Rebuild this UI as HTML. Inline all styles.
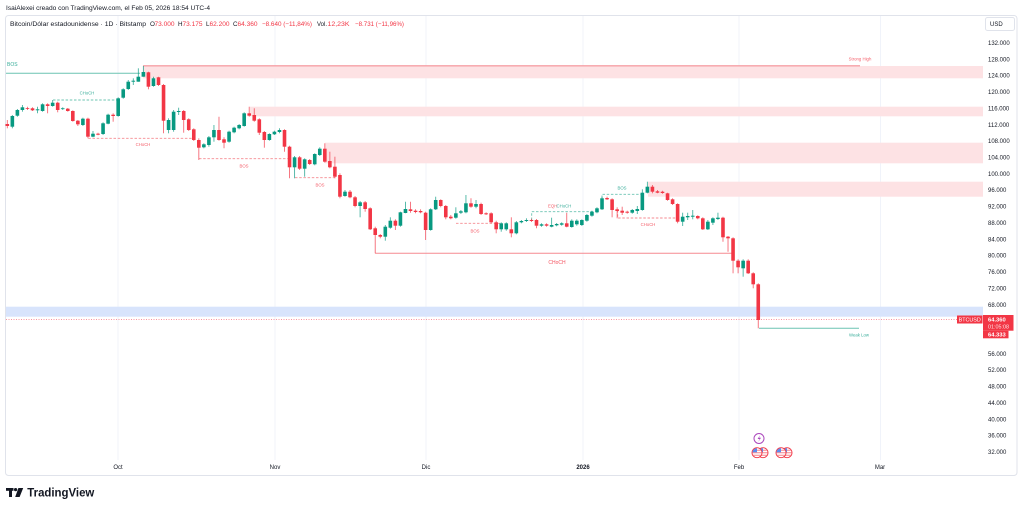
<!DOCTYPE html>
<html><head><meta charset="utf-8"><style>
html,body{margin:0;padding:0;background:#fff;}
svg{display:block;font-family:"Liberation Sans",sans-serif;}
.g path{stroke:#089981;stroke-width:.9;stroke-opacity:.75}
.g rect{fill:#089981}
.r path{stroke:#f23645;stroke-width:.9;stroke-opacity:.75}
.r rect{fill:#f23645}
.ax{font-size:6px;fill:#131722}
.lb{font-size:4.3px}
</style></head><body>
<svg width="1023" height="509" viewBox="0 0 1023 509" xmlns="http://www.w3.org/2000/svg">
<rect x="0" y="0" width="1023" height="509" fill="#fff"/>
<text x="6" y="9.8" font-size="6.6" fill="#131722" textLength="204" lengthAdjust="spacingAndGlyphs">IsaiAlexei creado con TradingView.com, el Feb 05, 2026 18:54 UTC-4</text>
<rect x="5.5" y="15.5" width="1011.5" height="460" rx="3" fill="#fff" stroke="#e0e3eb" stroke-width="1"/>
<!-- grid -->
<g stroke="#f0f3fa" stroke-width="1">
<path d="M118 16V460M275 16V460M426 16V460M583 16V460M739 16V460M880.5 16V460"/>
</g>
<!-- header line 2 -->
<g font-size="6.3">
<text x="10" y="26.2" fill="#131722" textLength="136" lengthAdjust="spacingAndGlyphs">Bitcoin/Dólar estadounidense · 1D · Bitstamp</text>
<text x="150" y="26.2" fill="#131722">O</text><text x="154.5" y="26.2" fill="#f23645" textLength="20" lengthAdjust="spacingAndGlyphs">73.000</text>
<text x="178" y="26.2" fill="#131722">H</text><text x="182.5" y="26.2" fill="#f23645" textLength="20" lengthAdjust="spacingAndGlyphs">73.175</text>
<text x="206" y="26.2" fill="#131722">L</text><text x="209.5" y="26.2" fill="#f23645" textLength="20" lengthAdjust="spacingAndGlyphs">62.200</text>
<text x="233" y="26.2" fill="#131722">C</text><text x="237.5" y="26.2" fill="#f23645" textLength="20" lengthAdjust="spacingAndGlyphs">64.360</text>
<text x="262" y="26.2" fill="#f23645" textLength="50" lengthAdjust="spacingAndGlyphs">−8.640 (−11,84%)</text>
<text x="317" y="26.2" fill="#131722" textLength="10" lengthAdjust="spacingAndGlyphs">Vol.</text>
<text x="327.5" y="26.2" fill="#f23645" textLength="22" lengthAdjust="spacingAndGlyphs">12,23K</text>
<text x="355" y="26.2" fill="#f23645" textLength="49" lengthAdjust="spacingAndGlyphs">−8.731 (−11,96%)</text>
</g>
<!-- zones -->
<rect x="143" y="66" width="840" height="12.3" fill="#fde2e4"/>
<rect x="250" y="106.7" width="733" height="9.6" fill="#fde2e4"/>
<rect x="325" y="142.7" width="658" height="20.6" fill="#fde2e4"/>
<rect x="648" y="181.7" width="335" height="15" fill="#fde2e4"/>
<rect x="6" y="306.7" width="977" height="10" fill="#d8e4fc"/>
<!-- price line -->
<path d="M6 319.5H957" stroke="#f23645" stroke-width=".7" stroke-dasharray="1 1.5" opacity=".7"/>
<!-- structure lines -->
<path d="M143 65.8H860" stroke="#f6a0a6" stroke-width="1.4"/>
<text x="860" y="60.5" class="lb" fill="#f23645" text-anchor="middle" opacity=".8">Strong High</text>
<path d="M6 73.3H140" stroke="#6cc4b2" stroke-width="1"/>
<text x="7" y="66" font-size="5" fill="#089981" opacity=".8">BOS</text>
<path d="M53 100H117" stroke="#6cc4b2" stroke-width=".9" stroke-dasharray="2.5 1.7"/>
<text x="87" y="94.5" class="lb" fill="#089981" text-anchor="middle" opacity=".8">CHoCH</text>
<path d="M88.3 138.3H195" stroke="#f58a90" stroke-width=".9" stroke-dasharray="2.5 1.7"/>
<text x="143" y="146" class="lb" fill="#f23645" text-anchor="middle" opacity=".8">CHoCH</text>
<path d="M199 158.7H288" stroke="#f58a90" stroke-width=".9" stroke-dasharray="2.5 1.7"/>
<text x="244" y="167.3" class="lb" fill="#f23645" text-anchor="middle" opacity=".8">BOS</text>
<path d="M295 177.7H335" stroke="#f58a90" stroke-width=".9" stroke-dasharray="2.5 1.7"/>
<text x="320" y="186.3" class="lb" fill="#f23645" text-anchor="middle" opacity=".8">BOS</text>
<path d="M375.2 253.3H732.7" stroke="#f58a90" stroke-width="1"/>
<text x="557" y="264" font-size="5" fill="#f23645" text-anchor="middle" opacity=".85">CHoCH</text>
<path d="M456 223.3H500" stroke="#f58a90" stroke-width=".9" stroke-dasharray="2.5 1.7"/>
<text x="475" y="232.3" class="lb" fill="#f23645" text-anchor="middle" opacity=".8">BOS</text>
<path d="M531.7 220V211.7H593" stroke="#6cc4b2" stroke-width=".9" stroke-dasharray="2.5 1.7" fill="none"/>
<text x="548" y="207.6" class="lb" fill="#f23645" opacity=".8">EQH</text>
<text x="556.5" y="207.3" class="lb" fill="#089981" opacity=".8">CHoCH</text>
<path d="M602 198V194.3H643" stroke="#6cc4b2" stroke-width=".9" stroke-dasharray="2.5 1.7" fill="none"/>
<text x="622" y="189.5" class="lb" fill="#089981" text-anchor="middle" opacity=".8">BOS</text>
<path d="M617.7 210V218H678" stroke="#f58a90" stroke-width=".9" stroke-dasharray="2.5 1.7" fill="none"/>
<text x="648" y="226" class="lb" fill="#f23645" text-anchor="middle" opacity=".8">CHoCH</text>
<path d="M759 328.3H859" stroke="#6cc4b2" stroke-width="1"/>
<text x="859" y="336.5" class="lb" fill="#089981" text-anchor="middle" opacity=".8">Weak Low</text>
<!-- candles -->
<g class="r" transform="translate(7.3)"><path d="M0 120V128.3"/><rect x="-1.8" y="124" width="3.6" height="2"/></g>
<g class="g" transform="translate(12.34)"><path d="M0 115V128.3"/><rect x="-1.8" y="116" width="3.6" height="10.7"/></g>
<g class="g" transform="translate(17.38)"><path d="M0 109V116.7"/><rect x="-1.8" y="110" width="3.6" height="5.7"/></g>
<g class="g" transform="translate(22.42)"><path d="M0 105V111.7"/><rect x="-1.8" y="107.3" width="3.6" height="2.7"/></g>
<g class="r" transform="translate(27.46)"><path d="M0 106.7V110"/><rect x="-1.8" y="108" width="3.6" height="0.8"/></g>
<g class="r" transform="translate(32.5)"><path d="M0 107.3V111"/><rect x="-1.8" y="108.3" width="3.6" height="2"/></g>
<g class="g" transform="translate(37.54)"><path d="M0 106.7V113.3"/><rect x="-1.8" y="109.3" width="3.6" height="1"/></g>
<g class="g" transform="translate(42.58)"><path d="M0 103.3V111.7"/><rect x="-1.8" y="104.3" width="3.6" height="6.7"/></g>
<g class="r" transform="translate(47.62)"><path d="M0 103.3V113.3"/><rect x="-1.8" y="104.3" width="3.6" height="1.7"/></g>
<g class="g" transform="translate(52.66)"><path d="M0 100V106.7"/><rect x="-1.8" y="102.7" width="3.6" height="3.3"/></g>
<g class="r" transform="translate(57.7)"><path d="M0 101.7V112.3"/><rect x="-1.8" y="102.7" width="3.6" height="7.3"/></g>
<g class="g" transform="translate(62.74)"><path d="M0 107.3V110"/><rect x="-1.8" y="108.3" width="3.6" height="0.8"/></g>
<g class="r" transform="translate(67.78)"><path d="M0 108V111.7"/><rect x="-1.8" y="108.7" width="3.6" height="2.3"/></g>
<g class="r" transform="translate(72.82)"><path d="M0 110.3V121.7"/><rect x="-1.8" y="111" width="3.6" height="10"/></g>
<g class="r" transform="translate(77.86)"><path d="M0 120V126"/><rect x="-1.8" y="120.7" width="3.6" height="3.6"/></g>
<g class="g" transform="translate(82.9)"><path d="M0 117.7V126"/><rect x="-1.8" y="118.7" width="3.6" height="6.3"/></g>
<g class="r" transform="translate(87.94)"><path d="M0 117.7V138.3"/><rect x="-1.8" y="118.7" width="3.6" height="18"/></g>
<g class="g" transform="translate(92.98)"><path d="M0 131V137.3"/><rect x="-1.8" y="133.7" width="3.6" height="3"/></g>
<g class="r" transform="translate(98.02)"><path d="M0 132.7V135.3"/><rect x="-1.8" y="133.7" width="3.6" height="1"/></g>
<g class="g" transform="translate(103.06)"><path d="M0 122.3V135"/><rect x="-1.8" y="123.3" width="3.6" height="10.7"/></g>
<g class="g" transform="translate(108.1)"><path d="M0 113.7V124.3"/><rect x="-1.8" y="114.7" width="3.6" height="9"/></g>
<g class="r" transform="translate(113.14)"><path d="M0 113.3V121.7"/><rect x="-1.8" y="114.7" width="3.6" height="1.3"/></g>
<g class="g" transform="translate(118.18)"><path d="M0 97.3V116.7"/><rect x="-1.8" y="98.3" width="3.6" height="17.7"/></g>
<g class="g" transform="translate(123.22)"><path d="M0 88.3V98.7"/><rect x="-1.8" y="89.3" width="3.6" height="8.4"/></g>
<g class="g" transform="translate(128.26)"><path d="M0 80V90"/><rect x="-1.8" y="81.7" width="3.6" height="7.3"/></g>
<g class="g" transform="translate(133.3)"><path d="M0 78.3V85"/><rect x="-1.8" y="80.7" width="3.6" height="1"/></g>
<g class="g" transform="translate(138.34)"><path d="M0 68.3V81.7"/><rect x="-1.8" y="76.7" width="3.6" height="5"/></g>
<g class="g" transform="translate(143.38)"><path d="M0 66V76.7"/><rect x="-1.8" y="72" width="3.6" height="4.7"/></g>
<g class="r" transform="translate(148.42)"><path d="M0 71.7V89.3"/><rect x="-1.8" y="72.3" width="3.6" height="14.4"/></g>
<g class="g" transform="translate(153.46)"><path d="M0 76.7V86.7"/><rect x="-1.8" y="78.3" width="3.6" height="7.7"/></g>
<g class="r" transform="translate(158.5)"><path d="M0 76.7V86"/><rect x="-1.8" y="77.3" width="3.6" height="7.7"/></g>
<g class="r" transform="translate(163.54)"><path d="M0 84V133.3"/><rect x="-1.8" y="85" width="3.6" height="35.7"/></g>
<g class="g" transform="translate(168.58)"><path d="M0 118.3V133.3"/><rect x="-1.8" y="120" width="3.6" height="10"/></g>
<g class="g" transform="translate(173.62)"><path d="M0 110V131.7"/><rect x="-1.8" y="111.7" width="3.6" height="18.3"/></g>
<g class="g" transform="translate(178.66)"><path d="M0 107.7V115"/><rect x="-1.8" y="111" width="3.6" height="1"/></g>
<g class="r" transform="translate(183.7)"><path d="M0 110V132.7"/><rect x="-1.8" y="111" width="3.6" height="9"/></g>
<g class="r" transform="translate(188.74)"><path d="M0 118.3V131"/><rect x="-1.8" y="119.3" width="3.6" height="10.7"/></g>
<g class="r" transform="translate(193.78)"><path d="M0 128.3V141"/><rect x="-1.8" y="129.3" width="3.6" height="10.7"/></g>
<g class="r" transform="translate(198.82)"><path d="M0 138.3V160"/><rect x="-1.8" y="140" width="3.6" height="7.7"/></g>
<g class="g" transform="translate(203.86)"><path d="M0 143.3V148.3"/><rect x="-1.8" y="144.3" width="3.6" height="3"/></g>
<g class="g" transform="translate(208.9)"><path d="M0 136V146.7"/><rect x="-1.8" y="137.3" width="3.6" height="7.7"/></g>
<g class="g" transform="translate(213.94)"><path d="M0 125V141.7"/><rect x="-1.8" y="130" width="3.6" height="7.3"/></g>
<g class="r" transform="translate(218.98)"><path d="M0 116.7V140.7"/><rect x="-1.8" y="130" width="3.6" height="10"/></g>
<g class="r" transform="translate(224.02)"><path d="M0 137.3V148.3"/><rect x="-1.8" y="139.3" width="3.6" height="3.4"/></g>
<g class="g" transform="translate(229.06)"><path d="M0 130.7V142.7"/><rect x="-1.8" y="131.7" width="3.6" height="10"/></g>
<g class="g" transform="translate(234.1)"><path d="M0 126.7V133.3"/><rect x="-1.8" y="127.7" width="3.6" height="4.6"/></g>
<g class="g" transform="translate(239.14)"><path d="M0 124V129.3"/><rect x="-1.8" y="125" width="3.6" height="3.3"/></g>
<g class="g" transform="translate(244.18)"><path d="M0 112.3V126.7"/><rect x="-1.8" y="113.3" width="3.6" height="12.7"/></g>
<g class="r" transform="translate(249.22)"><path d="M0 106.7V116.7"/><rect x="-1.8" y="113.3" width="3.6" height="2.4"/></g>
<g class="r" transform="translate(254.26)"><path d="M0 108.3V121.7"/><rect x="-1.8" y="115" width="3.6" height="5.7"/></g>
<g class="r" transform="translate(259.3)"><path d="M0 118.3V135"/><rect x="-1.8" y="119.3" width="3.6" height="13.4"/></g>
<g class="r" transform="translate(264.34)"><path d="M0 131V147.7"/><rect x="-1.8" y="132" width="3.6" height="8"/></g>
<g class="g" transform="translate(269.38)"><path d="M0 133.3V140.7"/><rect x="-1.8" y="134" width="3.6" height="6"/></g>
<g class="g" transform="translate(274.42)"><path d="M0 130.7V135"/><rect x="-1.8" y="131.7" width="3.6" height="2.6"/></g>
<g class="g" transform="translate(279.46)"><path d="M0 128.3V133.3"/><rect x="-1.8" y="130" width="3.6" height="2"/></g>
<g class="r" transform="translate(284.5)"><path d="M0 129.3V151.7"/><rect x="-1.8" y="130" width="3.6" height="16.7"/></g>
<g class="r" transform="translate(289.54)"><path d="M0 145.7V178.3"/><rect x="-1.8" y="146.7" width="3.6" height="20.6"/></g>
<g class="g" transform="translate(294.58)"><path d="M0 156V178.3"/><rect x="-1.8" y="157.3" width="3.6" height="10"/></g>
<g class="r" transform="translate(299.62)"><path d="M0 156V170"/><rect x="-1.8" y="157.3" width="3.6" height="11.4"/></g>
<g class="g" transform="translate(304.66)"><path d="M0 158.3V176.7"/><rect x="-1.8" y="159.3" width="3.6" height="9.4"/></g>
<g class="r" transform="translate(309.7)"><path d="M0 159V165"/><rect x="-1.8" y="160" width="3.6" height="4"/></g>
<g class="g" transform="translate(314.74)"><path d="M0 153.3V165.3"/><rect x="-1.8" y="154" width="3.6" height="10.3"/></g>
<g class="g" transform="translate(319.78)"><path d="M0 147.3V156"/><rect x="-1.8" y="148.7" width="3.6" height="6.3"/></g>
<g class="r" transform="translate(324.82)"><path d="M0 143.3V162.7"/><rect x="-1.8" y="148.7" width="3.6" height="13"/></g>
<g class="r" transform="translate(329.86)"><path d="M0 151.7V168.3"/><rect x="-1.8" y="161" width="3.6" height="6.3"/></g>
<g class="r" transform="translate(334.9)"><path d="M0 156.7V178.3"/><rect x="-1.8" y="166.7" width="3.6" height="10"/></g>
<g class="r" transform="translate(339.94)"><path d="M0 173.3V198.3"/><rect x="-1.8" y="175" width="3.6" height="21.7"/></g>
<g class="g" transform="translate(344.98)"><path d="M0 190V196.7"/><rect x="-1.8" y="191.7" width="3.6" height="4.3"/></g>
<g class="r" transform="translate(350.02)"><path d="M0 190V198.3"/><rect x="-1.8" y="191.7" width="3.6" height="5.6"/></g>
<g class="r" transform="translate(355.06)"><path d="M0 196V207.3"/><rect x="-1.8" y="197.3" width="3.6" height="8.7"/></g>
<g class="g" transform="translate(360.1)"><path d="M0 201V217.3"/><rect x="-1.8" y="202.3" width="3.6" height="3.7"/></g>
<g class="r" transform="translate(365.14)"><path d="M0 201V211.7"/><rect x="-1.8" y="202.3" width="3.6" height="6.7"/></g>
<g class="r" transform="translate(370.18)"><path d="M0 207.3V230"/><rect x="-1.8" y="208.3" width="3.6" height="21"/></g>
<g class="r" transform="translate(375.22)"><path d="M0 226.7V253.3"/><rect x="-1.8" y="228.3" width="3.6" height="6.7"/></g>
<g class="r" transform="translate(380.26)"><path d="M0 234V238.3"/><rect x="-1.8" y="235" width="3.6" height="1.7"/></g>
<g class="g" transform="translate(385.3)"><path d="M0 225V240.7"/><rect x="-1.8" y="226.7" width="3.6" height="10"/></g>
<g class="g" transform="translate(390.34)"><path d="M0 217.3V228.7"/><rect x="-1.8" y="220.7" width="3.6" height="7"/></g>
<g class="r" transform="translate(395.38)"><path d="M0 219.3V230"/><rect x="-1.8" y="220.7" width="3.6" height="5"/></g>
<g class="g" transform="translate(400.42)"><path d="M0 211.7V226.7"/><rect x="-1.8" y="212.3" width="3.6" height="13.4"/></g>
<g class="g" transform="translate(405.46)"><path d="M0 201.7V213.3"/><rect x="-1.8" y="209" width="3.6" height="4"/></g>
<g class="r" transform="translate(410.5)"><path d="M0 201.7V212.7"/><rect x="-1.8" y="209.3" width="3.6" height="1.7"/></g>
<g class="r" transform="translate(415.54)"><path d="M0 209.3V213.3"/><rect x="-1.8" y="210.7" width="3.6" height="1.3"/></g>
<g class="r" transform="translate(420.58)"><path d="M0 209.3V213.3"/><rect x="-1.8" y="211" width="3.6" height="1.3"/></g>
<g class="r" transform="translate(425.62)"><path d="M0 211.7V240"/><rect x="-1.8" y="212.7" width="3.6" height="17.3"/></g>
<g class="g" transform="translate(430.66)"><path d="M0 208.3V230.7"/><rect x="-1.8" y="209.3" width="3.6" height="20.7"/></g>
<g class="g" transform="translate(435.7)"><path d="M0 196.7V210"/><rect x="-1.8" y="200" width="3.6" height="9.3"/></g>
<g class="r" transform="translate(440.74)"><path d="M0 199.3V207.3"/><rect x="-1.8" y="200" width="3.6" height="6"/></g>
<g class="r" transform="translate(445.78)"><path d="M0 205V219.3"/><rect x="-1.8" y="206" width="3.6" height="11.3"/></g>
<g class="r" transform="translate(450.82)"><path d="M0 215V219.3"/><rect x="-1.8" y="216.7" width="3.6" height="1.6"/></g>
<g class="g" transform="translate(455.86)"><path d="M0 207.3V218.7"/><rect x="-1.8" y="213.3" width="3.6" height="4.4"/></g>
<g class="g" transform="translate(460.9)"><path d="M0 210V214"/><rect x="-1.8" y="211.3" width="3.6" height="1.4"/></g>
<g class="g" transform="translate(465.94)"><path d="M0 195V213.3"/><rect x="-1.8" y="203.3" width="3.6" height="9"/></g>
<g class="r" transform="translate(470.98)"><path d="M0 198.3V207.7"/><rect x="-1.8" y="203.3" width="3.6" height="3.4"/></g>
<g class="g" transform="translate(476.02)"><path d="M0 200V208.3"/><rect x="-1.8" y="204" width="3.6" height="2.7"/></g>
<g class="r" transform="translate(481.06)"><path d="M0 202.7V215"/><rect x="-1.8" y="204" width="3.6" height="10"/></g>
<g class="r" transform="translate(486.1)"><path d="M0 212.3V215"/><rect x="-1.8" y="213.3" width="3.6" height="1"/></g>
<g class="r" transform="translate(491.14)"><path d="M0 212.3V223.3"/><rect x="-1.8" y="213.3" width="3.6" height="9"/></g>
<g class="r" transform="translate(496.18)"><path d="M0 220.7V233.3"/><rect x="-1.8" y="222.3" width="3.6" height="7"/></g>
<g class="g" transform="translate(501.22)"><path d="M0 222.3V231.7"/><rect x="-1.8" y="223.3" width="3.6" height="6"/></g>
<g class="g" transform="translate(506.26)"><path d="M0 222.3V230.7"/><rect x="-1.8" y="223.3" width="3.6" height="6"/></g>
<g class="r" transform="translate(511.3)"><path d="M0 217.3V237.3"/><rect x="-1.8" y="229.3" width="3.6" height="4"/></g>
<g class="g" transform="translate(516.34)"><path d="M0 221V234.3"/><rect x="-1.8" y="222.3" width="3.6" height="11"/></g>
<g class="g" transform="translate(521.38)"><path d="M0 220V223.3"/><rect x="-1.8" y="221" width="3.6" height="1.3"/></g>
<g class="g" transform="translate(526.42)"><path d="M0 218.3V222"/><rect x="-1.8" y="220" width="3.6" height="1"/></g>
<g class="r" transform="translate(531.46)"><path d="M0 218.7V222"/><rect x="-1.8" y="220" width="3.6" height="1"/></g>
<g class="r" transform="translate(536.5)"><path d="M0 219V228.3"/><rect x="-1.8" y="220" width="3.6" height="5.7"/></g>
<g class="g" transform="translate(541.54)"><path d="M0 223.3V226.7"/><rect x="-1.8" y="224.3" width="3.6" height="1.4"/></g>
<g class="r" transform="translate(546.58)"><path d="M0 223.3V226.7"/><rect x="-1.8" y="224.3" width="3.6" height="1.4"/></g>
<g class="g" transform="translate(551.62)"><path d="M0 217.7V227.3"/><rect x="-1.8" y="225" width="3.6" height="1.7"/></g>
<g class="g" transform="translate(556.66)"><path d="M0 223V226.3"/><rect x="-1.8" y="224" width="3.6" height="1.3"/></g>
<g class="g" transform="translate(561.7)"><path d="M0 222.3V225.7"/><rect x="-1.8" y="223.3" width="3.6" height="1.4"/></g>
<g class="r" transform="translate(566.74)"><path d="M0 212.7V227.3"/><rect x="-1.8" y="223.3" width="3.6" height="3.4"/></g>
<g class="g" transform="translate(571.78)"><path d="M0 219.3V227.7"/><rect x="-1.8" y="220.7" width="3.6" height="6.3"/></g>
<g class="g" transform="translate(576.82)"><path d="M0 219.3V225.7"/><rect x="-1.8" y="220.7" width="3.6" height="3.6"/></g>
<g class="g" transform="translate(581.86)"><path d="M0 219.3V226"/><rect x="-1.8" y="220" width="3.6" height="5"/></g>
<g class="g" transform="translate(586.9)"><path d="M0 214V221.7"/><rect x="-1.8" y="215" width="3.6" height="5.7"/></g>
<g class="g" transform="translate(591.94)"><path d="M0 210.7V216.7"/><rect x="-1.8" y="211.7" width="3.6" height="4"/></g>
<g class="g" transform="translate(596.98)"><path d="M0 207.3V213.3"/><rect x="-1.8" y="208.3" width="3.6" height="4"/></g>
<g class="g" transform="translate(602.02)"><path d="M0 196.7V210"/><rect x="-1.8" y="198.3" width="3.6" height="11"/></g>
<g class="r" transform="translate(607.06)"><path d="M0 196.7V200"/><rect x="-1.8" y="198" width="3.6" height="1.3"/></g>
<g class="r" transform="translate(612.1)"><path d="M0 198.3V217.3"/><rect x="-1.8" y="199.3" width="3.6" height="10.7"/></g>
<g class="r" transform="translate(617.14)"><path d="M0 207.3V218.3"/><rect x="-1.8" y="209.3" width="3.6" height="1.7"/></g>
<g class="r" transform="translate(622.18)"><path d="M0 206.7V215"/><rect x="-1.8" y="210.7" width="3.6" height="2"/></g>
<g class="r" transform="translate(627.22)"><path d="M0 210.7V213.7"/><rect x="-1.8" y="211.7" width="3.6" height="1"/></g>
<g class="g" transform="translate(632.26)"><path d="M0 209V213.7"/><rect x="-1.8" y="210" width="3.6" height="2.7"/></g>
<g class="g" transform="translate(637.3)"><path d="M0 206V214"/><rect x="-1.8" y="209" width="3.6" height="2"/></g>
<g class="g" transform="translate(642.34)"><path d="M0 189.3V210.7"/><rect x="-1.8" y="192.7" width="3.6" height="17.3"/></g>
<g class="g" transform="translate(647.38)"><path d="M0 181.7V193.3"/><rect x="-1.8" y="186.7" width="3.6" height="6"/></g>
<g class="r" transform="translate(652.42)"><path d="M0 185V193.3"/><rect x="-1.8" y="186.7" width="3.6" height="5"/></g>
<g class="r" transform="translate(657.46)"><path d="M0 190V193.3"/><rect x="-1.8" y="191.3" width="3.6" height="1.4"/></g>
<g class="r" transform="translate(662.5)"><path d="M0 190.7V193.7"/><rect x="-1.8" y="191.7" width="3.6" height="1.3"/></g>
<g class="r" transform="translate(667.54)"><path d="M0 192.7V200.7"/><rect x="-1.8" y="193.3" width="3.6" height="6.7"/></g>
<g class="r" transform="translate(672.58)"><path d="M0 198.3V205"/><rect x="-1.8" y="199.3" width="3.6" height="4.7"/></g>
<g class="r" transform="translate(677.62)"><path d="M0 203.3V223.3"/><rect x="-1.8" y="204" width="3.6" height="17.7"/></g>
<g class="g" transform="translate(682.66)"><path d="M0 212.7V226"/><rect x="-1.8" y="216.7" width="3.6" height="5"/></g>
<g class="g" transform="translate(687.7)"><path d="M0 212.7V220"/><rect x="-1.8" y="216" width="3.6" height="1.3"/></g>
<g class="g" transform="translate(692.74)"><path d="M0 210V219.3"/><rect x="-1.8" y="215.7" width="3.6" height="1"/></g>
<g class="r" transform="translate(697.78)"><path d="M0 215.3V219.3"/><rect x="-1.8" y="216" width="3.6" height="2.3"/></g>
<g class="r" transform="translate(702.82)"><path d="M0 217.3V230"/><rect x="-1.8" y="218.3" width="3.6" height="11"/></g>
<g class="g" transform="translate(707.86)"><path d="M0 220V230"/><rect x="-1.8" y="221.7" width="3.6" height="7.6"/></g>
<g class="g" transform="translate(712.9)"><path d="M0 217.3V225"/><rect x="-1.8" y="218.3" width="3.6" height="4.4"/></g>
<g class="g" transform="translate(717.94)"><path d="M0 212.7V220"/><rect x="-1.8" y="217.7" width="3.6" height="1.3"/></g>
<g class="r" transform="translate(722.98)"><path d="M0 216.7V241.7"/><rect x="-1.8" y="217.7" width="3.6" height="19.6"/></g>
<g class="r" transform="translate(728.02)"><path d="M0 236V251.7"/><rect x="-1.8" y="236.7" width="3.6" height="1.6"/></g>
<g class="r" transform="translate(733.06)"><path d="M0 237.3V273.3"/><rect x="-1.8" y="238.3" width="3.6" height="22.4"/></g>
<g class="r" transform="translate(738.1)"><path d="M0 259.3V273.3"/><rect x="-1.8" y="260.7" width="3.6" height="6.6"/></g>
<g class="g" transform="translate(743.14)"><path d="M0 259.3V276.7"/><rect x="-1.8" y="260.7" width="3.6" height="7.6"/></g>
<g class="r" transform="translate(748.18)"><path d="M0 259.3V274"/><rect x="-1.8" y="260.7" width="3.6" height="12.6"/></g>
<g class="r" transform="translate(753.22)"><path d="M0 272.3V288.3"/><rect x="-1.8" y="273.3" width="3.6" height="11"/></g>
<g class="r" transform="translate(758.26)"><path d="M0 283.3V328.3"/><rect x="-1.8" y="284.3" width="3.6" height="35.7"/></g>
<!-- price axis -->
<rect x="985.5" y="17.5" width="29" height="13" rx="2" fill="#fff" stroke="#e0e3eb"/>
<text x="990" y="26.2" class="ax">USD</text>
<g class="ax">
<text x="988" y="45">132.000</text>
<text x="988" y="61.4">128.000</text>
<text x="988" y="77.7">124.000</text>
<text x="988" y="94.1">120.000</text>
<text x="988" y="110.4">116.000</text>
<text x="988" y="126.8">112.000</text>
<text x="988" y="143.2">108.000</text>
<text x="988" y="159.5">104.000</text>
<text x="988" y="175.9">100.000</text>
<text x="988" y="192.2">96.000</text>
<text x="988" y="208.6">92.000</text>
<text x="988" y="225">88.000</text>
<text x="988" y="241.3">84.000</text>
<text x="988" y="257.7">80.000</text>
<text x="988" y="274">76.000</text>
<text x="988" y="290.4">72.000</text>
<text x="988" y="306.8">68.000</text>
<text x="988" y="355.8">56.000</text>
<text x="988" y="372.2">52.000</text>
<text x="988" y="388.6">48.000</text>
<text x="988" y="404.9">44.000</text>
<text x="988" y="421.3">40.000</text>
<text x="988" y="437.6">36.000</text>
<text x="988" y="454">32.000</text>
</g>
<rect x="957" y="315.5" width="25.5" height="8" fill="#f23645"/>
<text x="969.7" y="321.6" font-size="5.4" fill="#fff" text-anchor="middle">BTCUSD</text>
<rect x="983" y="315" width="30.5" height="15.7" fill="#f23645"/>
<text x="988" y="321.5" font-size="5.8" fill="#fff" font-weight="bold">64.360</text>
<text x="988" y="328.3" font-size="5.4" fill="#fff" opacity=".85">01:05:08</text>
<rect x="983" y="330.7" width="25.5" height="7.6" fill="#f23645"/>
<text x="988" y="336.5" font-size="5.8" fill="#fff" font-weight="bold">64.333</text>
<!-- time axis -->
<g class="ax" text-anchor="middle">
<text x="118" y="469.2">Oct</text>
<text x="275" y="469.2">Nov</text>
<text x="426" y="469.2">Dic</text>
<text x="583" y="469.2" font-weight="bold">2026</text>
<text x="739" y="469.2">Feb</text>
<text x="880" y="469.2">Mar</text>
</g>
<!-- events -->
<circle cx="759" cy="438.5" r="5" fill="#fff" stroke="#ab47bc" stroke-width="1"/>
<path d="M760 435.2L757.6 439H759.6L758.2 442L761 437.8H759.1Z" fill="#ab47bc"/>
<defs><clipPath id="fc"><circle cx="0" cy="0" r="4.6"/></clipPath>
<g id="flag"><circle cx="0" cy="0" r="5" fill="#fff" stroke="#f23645" stroke-width=".9"/>
<g clip-path="url(#fc)"><path d="M-5 -2.5H5M-5 0H5M-5 2.5H5" stroke="#f7848c" stroke-width="1"/><rect x="-5" y="-5" width="5" height="4.6" fill="#5b8def"/></g></g></defs>
<use href="#flag" x="763" y="452.7"/>
<use href="#flag" x="757" y="452.7"/>
<use href="#flag" x="787" y="452.7"/>
<use href="#flag" x="781" y="452.7"/>
<!-- logo -->
<g fill="#131722">
<rect x="6" y="488" width="7.5" height="2.8"/>
<rect x="9" y="488" width="3" height="9"/>
<circle cx="15.6" cy="489.6" r="1.6"/>
<polygon points="18.4,488 23.2,488 19.6,497 15.2,497"/>
</g>
<text x="27.3" y="496.5" font-size="12.2" font-weight="bold" fill="#131722" textLength="67" lengthAdjust="spacingAndGlyphs">TradingView</text>
</svg>
</body></html>
